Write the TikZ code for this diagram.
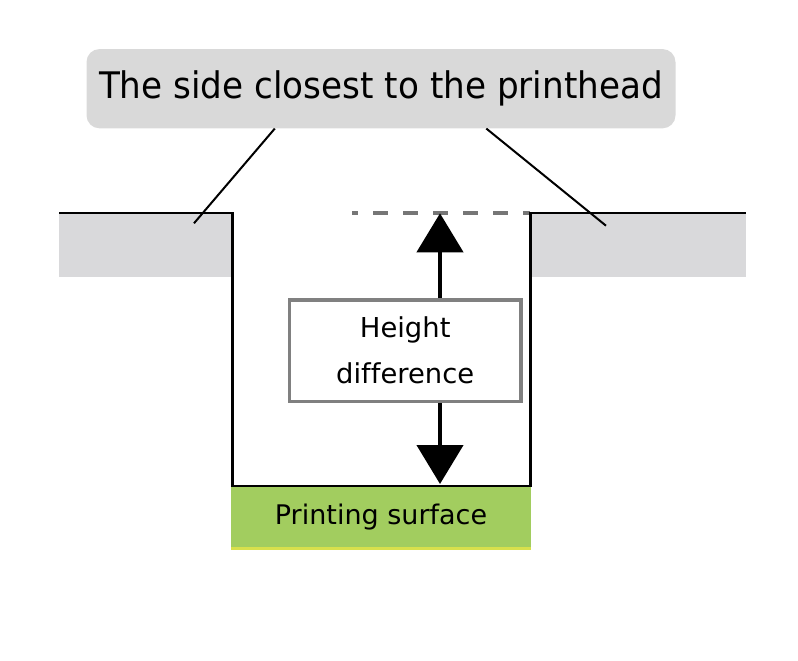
\documentclass[tikz,border=0pt]{standalone}
\usepackage{fontspec}
\setmainfont{DejaVu Sans}[Ligatures=NoCommon]
\usetikzlibrary{arrows.meta,calc}
\definecolor{calloutgray}{HTML}{D9D9D9}
\definecolor{blockgray}{HTML}{D9D9DB}
\definecolor{surfgreen}{HTML}{A2CD5F}
\definecolor{surfyellow}{HTML}{D8E04C}
\definecolor{dashgray}{HTML}{767676}
\definecolor{boxgray}{HTML}{808080}
\tikzset{
  wall/.style={line width=2.4pt, black, line join=miter},
  leader/.style={line width=2pt, black},
  heightarrow/.style={line width=4.5pt, black, -{Triangle[length=39pt,width=46pt]}},
  refline/.style={line width=3.8pt, dashgray, dash pattern=on 15pt off 15pt, dash phase=9pt},
  labelbox/.style={draw=boxgray, line width=3.5pt, fill=white, inner sep=0pt,
    minimum width=231.5pt, minimum height=101.3pt, align=center,
    font=\fontsize{27.4}{46}\selectfont},
  callout/.style={fill=calloutgray, rounded corners=13pt, inner sep=0pt,
    minimum width=589pt, minimum height=79.3pt,
    font=\fontsize{36.6}{44}\selectfont},
  surface/.style={fill=surfgreen, inner sep=0pt, minimum width=300pt, minimum height=60.5pt,
    font=\fontsize{27}{32}\selectfont}
}
\begin{document}
\begin{tikzpicture}[x=1pt,y=-1pt]
\useasboundingbox (0,0) rectangle (798,661);
% gray blocks
\fill[blockgray] (59,212.7) rectangle (232.5,276.7);
\fill[blockgray] (530.5,212.7) rectangle (746,276.7);
% printing surface
\node[surface] (ps) at (381,516.7) {Printing surface};
\draw[surfyellow, line width=3pt] ([yshift=-1.4pt]ps.south west) -- ([yshift=-1.4pt]ps.south east);
% dashed reference line
\coordinate (dstart) at (352,212.7);
\coordinate (dend) at (530,212.7);
\draw[refline] (dstart) -- (dend);
% walls
\draw[wall] (59,212.7) -- (232.5,212.7) -- (232.5,486) -- (530.5,486) -- (530.5,212.7) -- (746,212.7);
% height difference box
\node[labelbox] (hd) at (405.2,350.6) {Height\\difference};
\coordinate (uptip) at (440,213.3);
\coordinate (downtip) at (440,484);
\draw[heightarrow] (hd.north -| uptip) -- (uptip);
\draw[heightarrow] (hd.south -| downtip) -- (downtip);
% callout
\node[callout] (co) at (381,88.7) {\scalebox{0.935}[1]{The side closest to the printhead}};
\path (co.south west) ++(188.5,0) coordinate (lstart);
\path (co.south west) ++(400,0) coordinate (rstart);
\coordinate (lend) at (194,223.3);
\coordinate (rend) at (606,225.7);
\draw[leader] (lstart) -- (lend);
\draw[leader] (rstart) -- (rend);
\end{tikzpicture}
\end{document}
